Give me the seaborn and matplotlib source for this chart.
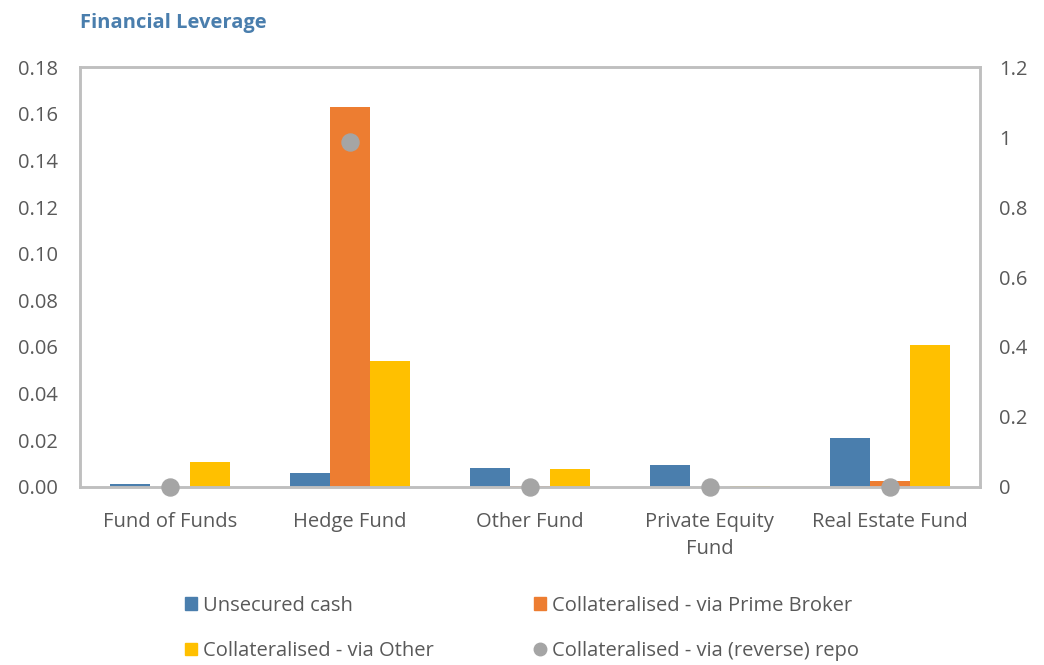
import matplotlib
matplotlib.use("Agg")
import matplotlib.pyplot as plt
import seaborn as sns
import numpy as np
import pandas as pd
from matplotlib.lines import Line2D
from matplotlib.patches import Patch

categories = ["Fund of Funds", "Hedge Fund", "Other Fund", "Private Equity\nFund", "Real Estate Fund"]
unsecured_cash = [0.0012, 0.0058, 0.0083, 0.0094, 0.0211]
via_prime_broker = [0.0, 0.163, 0.0003, 0.0, 0.0026]
via_other = [0.0106, 0.054, 0.0077, 0.0005, 0.061]
via_repo = [0.0, 0.986, 0.0, 0.0, 0.0]

series_names = ["Unsecured cash", "Collateralised - via Prime Broker", "Collateralised - via Other"]
left_ticks = [0.0, 0.02, 0.04, 0.06, 0.08, 0.10, 0.12, 0.14, 0.16, 0.18]
right_ticks = [0, 0.2, 0.4, 0.6, 0.8, 1, 1.2]
right_labels = ["0", "0.2", "0.4", "0.6", "0.8", "1", "1.2"]

colors = ["#4A7EAD", "#ED7D31", "#FFC000"]
repo_color = "#A5A5A5"
text_color = "#595959"
frame_color = "#BFBFBF"

df = pd.DataFrame({
    "category": categories * 3,
    "series": np.repeat(series_names, len(categories)),
    "value": unsecured_cash + via_prime_broker + via_other,
})

sns.set_style("white")
plt.rcParams["font.family"] = ["Open Sans", "DejaVu Sans"]

fig = plt.figure(figsize=(10.44, 6.65), dpi=100)
ax = fig.add_axes([0.0766, 0.2677, 0.862, 0.6315])

sns.barplot(data=df, x="category", y="value", hue="series", palette=colors,
            width=0.667, ax=ax, legend=False, saturation=1, linewidth=0)
ax.set_xlim(-0.5, len(categories) - 0.5)
ax.set_ylim(0, 0.18)
ax.set_yticks(left_ticks)
ax.set_yticklabels([f"{t:.2f}" for t in left_ticks])
ax.set_xlabel("")
ax.set_ylabel("")

# repo series on the secondary axis
ax2 = ax.twinx()
ax2.scatter(np.arange(len(categories)), via_repo, s=150, color=repo_color, zorder=5, clip_on=False)
ax2.set_ylim(0, 1.2)
ax2.set_yticks(right_ticks)
ax2.set_yticklabels(right_labels)

for a in (ax, ax2):
    for sp in a.spines.values():
        sp.set_color(frame_color)
        sp.set_linewidth(1.8)
    a.tick_params(length=0, labelsize=14.5, colors=text_color)
ax.tick_params(axis="y", pad=16)
ax2.tick_params(axis="y", pad=14)
ax.tick_params(axis="x", pad=18)
for lbl in ax.get_xticklabels():
    lbl.set_linespacing(1.45)

fig.text(0.0766, 0.966, "Financial Leverage", fontsize=14.5, fontweight="bold",
         color="#4A7EAD", ha="left", va="center")

handles = [
    Patch(color=colors[0], label=series_names[0]),
    Patch(color=colors[2], label=series_names[2]),
    Patch(color=colors[1], label=series_names[1]),
    Line2D([], [], marker="o", linestyle="none", color=repo_color, markersize=9,
           label="Collateralised - via (reverse) repo"),
]
fig.legend(handles=handles, ncol=2, loc="center", bbox_to_anchor=(0.5, 0.055),
           frameon=False, fontsize=14.5, labelcolor=text_color, handlelength=0.6,
           handleheight=0.6, handletextpad=0.3, columnspacing=5.0, labelspacing=1.25)

fig.savefig("out.png", dpi=100)
